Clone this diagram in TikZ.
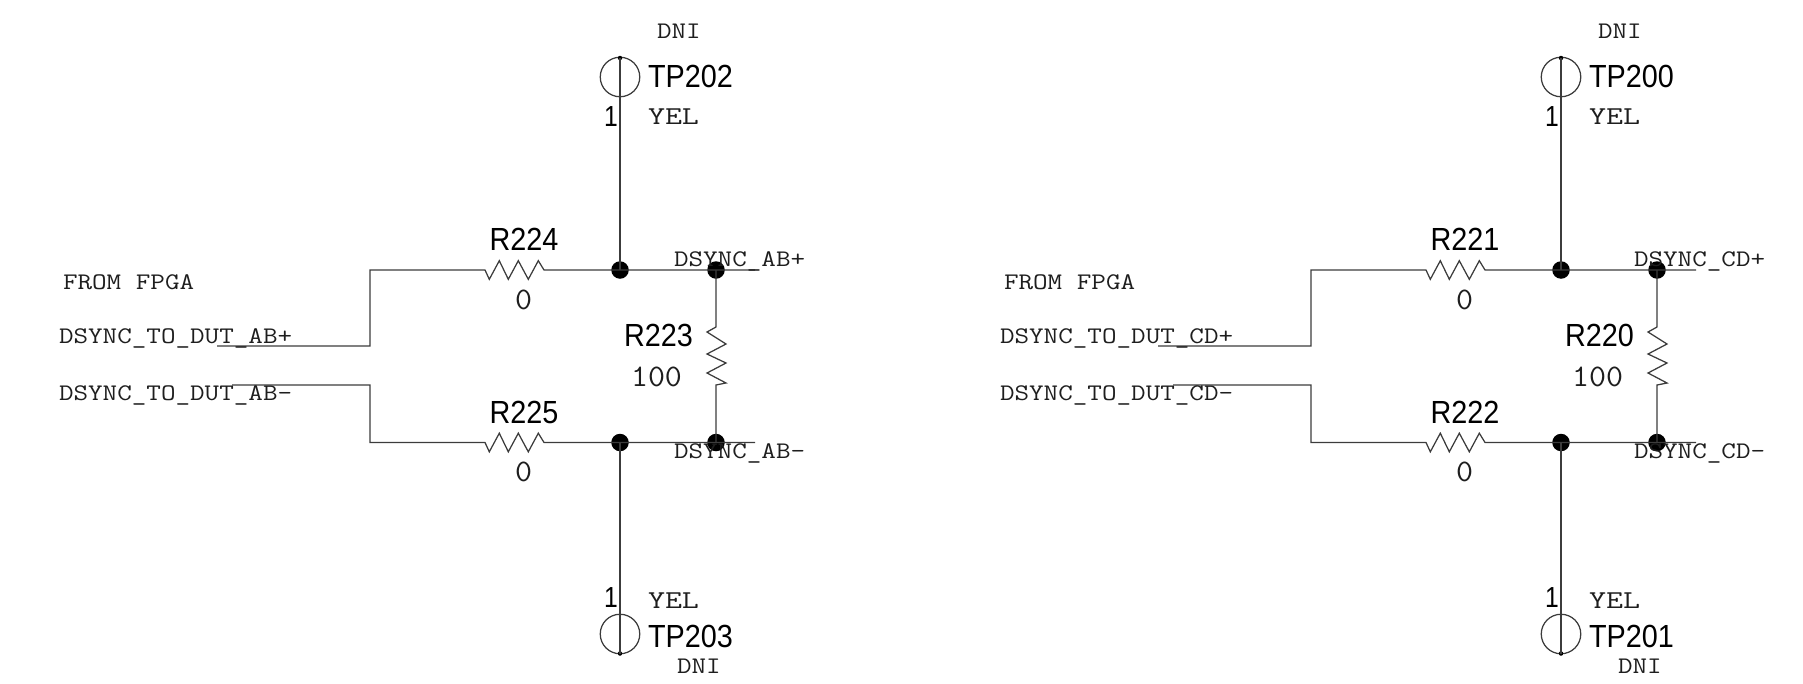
\documentclass[tikz,border=0pt]{standalone}
\usepackage{fontspec}
\usepackage{graphicx}
\setmainfont{Liberation Sans}
\newcommand{\refdes}[1]{\scalebox{.9}[1]{\fontsize{32}{34}\selectfont #1}}
\newcommand{\pinone}[1]{\scalebox{.85}[1]{\fontsize{29}{31}\selectfont #1}}
\newcommand{\monotxt}[1]{\scalebox{1}[.84]{\fontsize{28.3}{30}\ttfamily #1}}
\newcommand{\yeltxt}[1]{\scalebox{1}[.78]{\fontsize{33}{35}\ttfamily #1}}
\newcommand{\valtxt}[1]{\scalebox{1}[.95]{\fontsize{33}{35}\ttfamily #1}}
\definecolor{wirecol}{HTML}{3C3C3C}
\definecolor{inkcol}{HTML}{1E1E1E}
\tikzset{
  wire/.style={draw=wirecol,line width=1.25pt,line join=miter},
  junct/.style={circle,fill=black,draw=none,inner sep=0pt,minimum size=17.5pt},
  pindot/.style={circle,fill=black,draw=none,inner sep=0pt,minimum size=4.5pt},
  tpring/.style={circle,draw=wirecol,line width=1.25pt,fill=none,inner sep=0pt,minimum size=39.5pt},
  lab/.style={anchor=base west,inner sep=0pt,outer sep=0pt,text=inkcol},
  labc/.style={anchor=base,inner sep=0pt,outer sep=0pt,text=inkcol},
  des/.style={anchor=base west,inner sep=0pt,outer sep=0pt,text=black},
}
% args: top R, bottom R, term R, top TP, bottom TP, net, net label x offset
\newcommand{\schem}[7]{%
  \coordinate (stubA) at (217,346);
  \coordinate (stubB) at (232,385);
  \coordinate (bendA) at (370,346);
  \coordinate (bendB) at (370,385);
  \coordinate (cornA) at (370,270);
  \coordinate (cornB) at (370,442.5);
  \coordinate (rAin) at (485,270);
  \coordinate (rBin) at (485,442.5);
  \coordinate (rCin) at (716,327);
  \coordinate (endA) at (755,270);
  \coordinate (endB) at (755,442.5);
  \node[junct] (jA) at (620,270) {};
  \node[junct] (jB) at (620,442.5) {};
  \node[junct] (jC) at (716,270) {};
  \node[junct] (jD) at (716,442.5) {};
  \node[tpring] (tpA) at (620,77) {};
  \node[tpring] (tpB) at (620,634) {};
  \node[pindot] (dotA) at (620,58) {};
  \node[pindot] (dotB) at (620,653.5) {};
  \draw[wire] (stubA) -- (bendA) -- (cornA) -- (rAin)
     -- ++(4.3,9.3) -- ++(10,-18.6) -- ++(9,18.6) -- ++(10,-18.6) -- ++(10,18.6) -- ++(10,-18.6) -- ++(5.7,9.3) -- (jA.center) -- (jC.center) -- (endA);
  \draw[wire] (stubB) -- (bendB) -- (cornB) -- (rBin)
     -- ++(4.3,9.3) -- ++(10,-18.6) -- ++(9,18.6) -- ++(10,-18.6) -- ++(10,18.6) -- ++(10,-18.6) -- ++(5.7,9.3) -- (jB.center) -- (jD.center) -- (endB);
  \draw[wire] (jC.center) -- (rCin)
     -- ++(-9,5) -- ++(19,12) -- ++(-19,10) -- ++(19,9) -- ++(-19,10) -- ++(19,10) -- ++(-10,2) -- (jD.center);
  \draw[wire] (dotA.center) -- (jA.center);
  \draw[wire] (dotB.center) -- (jB.center);
  \node[des] (refA) at (489.5,250) {\refdes{#1}};
  \node[labc] (valA) at (523.5,309) {\valtxt{0}};
  \node[des] (refB) at (489.5,423) {\refdes{#2}};
  \node[labc] (valB) at (523.5,481) {\valtxt{0}};
  \node[des] (refC) at (624,346) {\refdes{#3}};
  \node[lab] (valC) at (631,386) {\valtxt{100}};
  \node[lab] (fpga) at (63,289) {\monotxt{FROM FPGA}};
  \node[lab] (srcA) at (59,343) {\monotxt{DSYNC\_TO\_DUT\_#6+}};
  \node[lab] (srcB) at (59,400) {\monotxt{DSYNC\_TO\_DUT\_#6-}};
  \node[lab] (netA) at (#7,266) {\monotxt{DSYNC\_#6+}};
  \node[lab] (netB) at (#7,458) {\monotxt{DSYNC\_#6-}};
  \node[lab] (dniA) at (657,38) {\monotxt{DNI}};
  \node[des] (tpnA) at (648,87) {\refdes{#4}};
  \node[lab] (yelA) at (648,124) {\yeltxt{YEL}};
  \node[des] (oneA) at (604,126) {\pinone{1}};
  \node[des] (oneB) at (604,607) {\pinone{1}};
  \node[lab] (yelB) at (648,608) {\yeltxt{YEL}};
  \node[des] (tpnB) at (648,647) {\refdes{#5}};
  \node[lab] (dniB) at (677,673) {\monotxt{DNI}};
}
\begin{document}
\begin{tikzpicture}[x=1pt,y=-1pt]
  \useasboundingbox (0,0) rectangle (1803,683);
  \begin{scope}[name prefix=L-]
    \schem{R224}{R225}{R223}{TP202}{TP203}{AB}{674}
  \end{scope}
  \begin{scope}[xshift=941pt,name prefix=R-]
    \schem{R221}{R222}{R220}{TP200}{TP201}{CD}{693}
  \end{scope}
\end{tikzpicture}
\end{document}
